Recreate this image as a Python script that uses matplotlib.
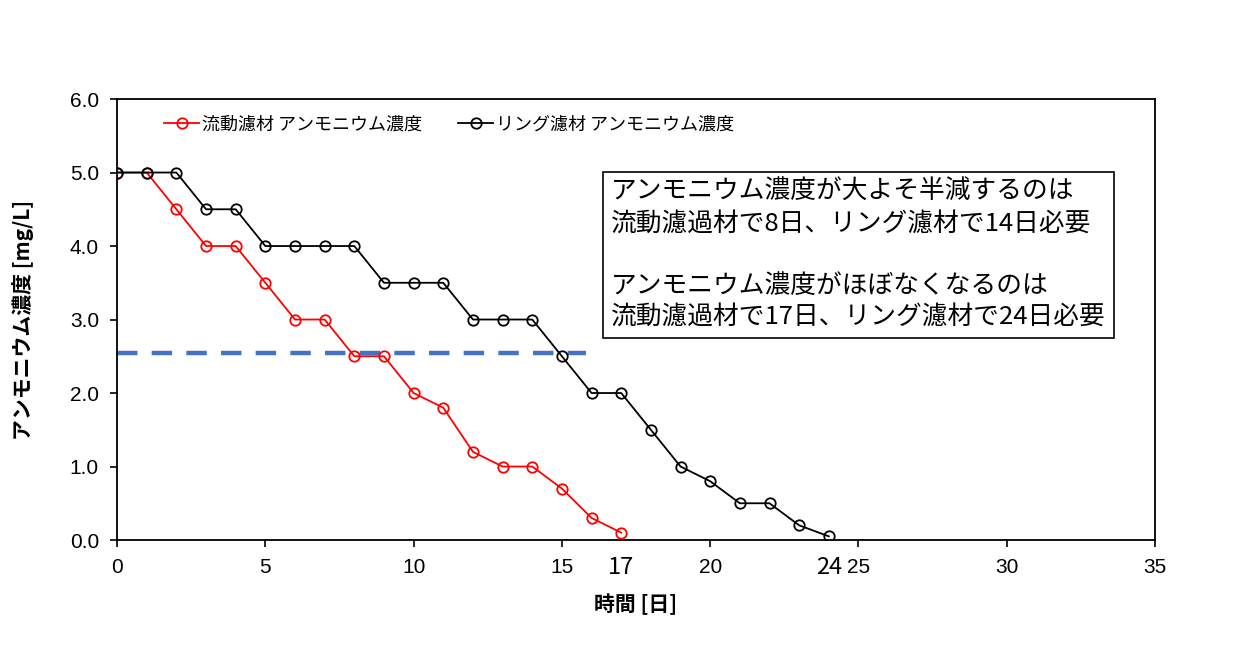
import numpy as np
import matplotlib
matplotlib.use("Agg")
import matplotlib.pyplot as plt

plt.rcParams['font.family'] = ['Noto Sans CJK JP', 'DejaVu Sans']

# data
days_fluid = list(range(0, 18))
conc_fluid = [5.0, 5.0, 4.5, 4.0, 4.0, 3.5, 3.0, 3.0, 2.5, 2.5,
              2.0, 1.8, 1.2, 1.0, 1.0, 0.7, 0.3, 0.1]
days_ring = list(range(0, 25))
conc_ring = [5.0, 5.0, 5.0, 4.5, 4.5, 4.0, 4.0, 4.0, 4.0, 3.5,
             3.5, 3.5, 3.0, 3.0, 3.0, 2.5, 2.0, 2.0, 1.5, 1.0,
             0.8, 0.5, 0.5, 0.2, 0.05]
half_x = [0, 15.8]
half_y = [2.55, 2.55]
mark_days = [17, 24]

label_fluid = '流動濾材 アンモニウム濃度'
label_ring = 'リング濾材 アンモニウム濃度'
note = ('アンモニウム濃度が大よそ半減するのは\n'
        '流動濾過材で8日、リング濾材で14日必要\n'
        '\n'
        'アンモニウム濃度がほぼなくなるのは\n'
        '流動濾過材で17日、リング濾材で24日必要')

fig = plt.figure(figsize=(12.6, 6.58), dpi=100)
ax = fig.add_axes([0.0929, 0.1793, 0.8238, 0.6702])

ax.plot(days_fluid, conc_fluid, '-o', color='#ff0000', lw=1.3, ms=7.5,
        mfc='none', mew=1.3, label=label_fluid, zorder=3)
ax.plot(days_ring, conc_ring, '-o', color='black', lw=1.3, ms=7.5,
        mfc='none', mew=1.3, label=label_ring, zorder=3)
ax.plot(half_x, half_y, color='#4472c4', lw=3.2, dashes=(4.6, 3.2), zorder=2)

ax.set_xlim(0, 35)
ax.set_ylim(0, 6)
ax.set_xticks(np.arange(0, 36, 5))
ax.set_yticks(np.arange(0, 6.1, 1))
ax.set_yticklabels([f'{v:.1f}' for v in np.arange(0, 6.1, 1)])
ax.tick_params(width=1.2, length=5, pad=8)
for lab in ax.get_xticklabels() + ax.get_yticklabels():
    lab.set_family('Liberation Sans')
    lab.set_fontsize(15)
for s in ax.spines.values():
    s.set_linewidth(1.3)

ax.set_xlabel('時間 [日]', fontsize=15, fontweight='bold', labelpad=12)
ax.set_ylabel('アンモニウム濃度 [mg/L]', fontsize=15, fontweight='bold', labelpad=26)

for d in mark_days:
    ax.text(d, -0.063, str(d), transform=ax.get_xaxis_transform(),
            ha='center', va='center', fontsize=17)

ax.legend(loc='upper left', bbox_to_anchor=(0.03, 1.0), ncol=2, frameon=False,
          fontsize=13, handlelength=1.9, handletextpad=0.2, columnspacing=2.0)

ax.text(0.476, 0.818, note, transform=ax.transAxes, ha='left', va='top',
        fontsize=18.5, linespacing=1.26,
        bbox=dict(boxstyle='square,pad=0.3', fc='white', ec='black', lw=1.2))

fig.savefig('out.png', dpi=100)
